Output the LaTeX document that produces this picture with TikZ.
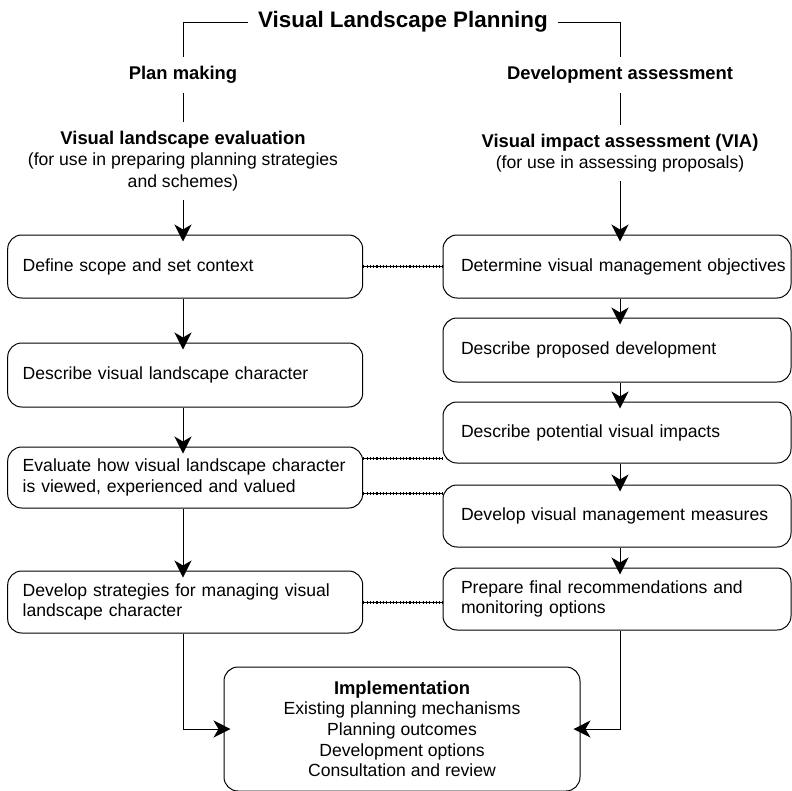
\documentclass[tikz,border=0pt]{standalone}
\usepackage{fontspec}
\setmainfont{Liberation Sans}
\usetikzlibrary{arrows.meta,calc}
\newcommand\Ln[1]{\mbox{#1}}
\newcommand\hb{\fontsize{18.4}{21.5}\selectfont\bfseries}
\begin{document}
\begin{tikzpicture}[x=1pt,y=-1pt,
  every node/.style={font=\fontsize{17.6}{20.7}\selectfont},
  box/.style={draw, line width=1pt, rounded corners=14pt, align=left, inner ysep=0pt},
  lbox/.style={box, text width=325pt, inner xsep=15pt},
  rbox/.style={box, text width=312pt, inner xsep=18pt},
  head/.style={font=\hb, inner xsep=0pt, inner ysep=9pt},
  sub/.style={align=center, inner sep=9pt, font=\fontsize{17.6}{21.5}\selectfont},
  line/.style={line width=1pt},
  arr/.style={line width=1pt, -{Stealth[length=17pt,width=17pt,inset=5pt]}, shorten >=-7pt},
  link/.style={line width=0.8pt, postaction={draw, line width=3pt, dash pattern=on 1.1pt off 2.2pt}}
]
\useasboundingbox (0,0) rectangle (792,790);

% headings
\node[font=\fontsize{22.4}{26}\selectfont\bfseries, inner xsep=10pt] (title) at (403,22) {Visual Landscape Planning};
\node[head] (pm) at (183,75) {Plan making};
\node[head] (da) at (620,75) {Development assessment};
\node[sub] (vle) at (183,161) {{\hb Visual landscape evaluation}\\(for use in preparing planning strategies\\and schemes)};
\node[sub] (via) at (620,153) {{\hb Visual impact assessment (VIA)}\\(for use in assessing proposals)};

\draw[line] (title.west) -| (pm.north);
\draw[line] (title.east) -| (da.north);
\draw[line] (pm.south) -- (vle.north);
\draw[line] (da.south) -- (via.north);

% left column
\node[lbox, minimum height=63pt] (L1) at (185.2,266.5) {Define scope and set context};
\node[lbox, minimum height=64pt] (L2) at (185.2,375) {Describe visual landscape character};
\node[lbox, minimum height=61pt] (L3) at (185.2,477.5) {\Ln{Evaluate how visual landscape character}\\\Ln{is viewed, experienced and valued}};
\node[lbox, minimum height=62pt] (L4) at (185.2,602) {\Ln{Develop strategies for managing visual}\\landscape character};

% right column
\node[rbox, minimum height=63pt] (R1) at (617,266.5) {\Ln{Determine visual management objectives}};
\node[rbox, minimum height=64pt] (R2) at (617,350) {Describe proposed development};
\node[rbox, minimum height=61pt] (R3) at (617,432.5) {Describe potential visual impacts};
\node[rbox, minimum height=62pt] (R4) at (617,516) {Develop visual management measures};
\node[rbox, minimum height=62pt] (R5) at (617,599) {\Ln{Prepare final recommendations and}\\monitoring options};

% implementation
\node[box, align=center, minimum width=356pt, minimum height=124pt] (impl) at (402,729)
  {{\hb Implementation}\\Existing planning mechanisms\\Planning outcomes\\Development options\\Consultation and review};

% arrows left
\draw[arr] (vle.south) -- (vle.south |- L1.north);
\draw[arr] (L1.south -| vle.south) -- (L2.north -| vle.south);
\draw[arr] (L2.south -| vle.south) -- (L3.north -| vle.south);
\draw[arr] (L3.south -| vle.south) -- (L4.north -| vle.south);
\draw[arr] (L4.south -| vle.south) |- (impl.west);

% arrows right
\draw[arr] (via.south) -- (via.south |- R1.north);
\draw[arr] (R1.south -| via.south) -- (R2.north -| via.south);
\draw[arr] (R2.south -| via.south) -- (R3.north -| via.south);
\draw[arr] (R3.south -| via.south) -- (R4.north -| via.south);
\draw[arr] (R4.south -| via.south) -- (R5.north -| via.south);
\draw[arr] (R5.south -| via.south) |- (impl.east);

% dotted links
\draw[link] (L1.east) -- (R1.west);
\coordinate (c3) at ([yshift=-25.5pt]R3.west);
\draw[link] (c3 -| L3.east) -- (c3);
\coordinate (c4) at ([yshift=23pt]R4.west);
\draw[link] (c4 -| L3.east) -- (c4);
\draw[link] (L4.east) -- (L4.east -| R5.west);
\end{tikzpicture}
\end{document}
